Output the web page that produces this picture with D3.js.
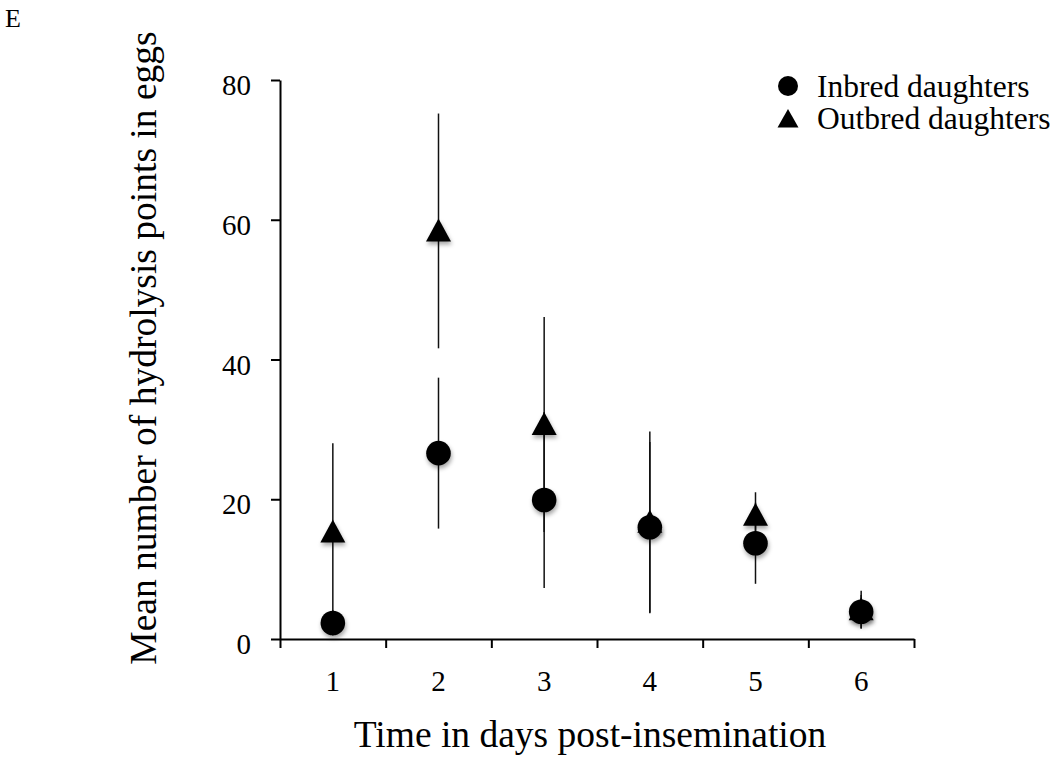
<!DOCTYPE html>
<html>
<head>
<meta charset="utf-8">
<script src="https://cdn.jsdelivr.net/npm/d3@7"></script>
<style>
  html, body { margin: 0; padding: 0; background: #fff; }
  svg { display: block; font-family: "Liberation Serif", "Times New Roman", serif; }
</style>
</head>
<body>
<svg id="chart" width="1053" height="757"></svg>
<script>
// ---- data ----
const days = ["1", "2", "3", "4", "5", "6"];
const inbredMean = [2.3, 26.6, 19.9, 16.0, 13.7, 3.9];
const inbredErr  = [1.8, 10.8, 12.6, 12.2, 5.8, 2.4];
const outbredMean = [15.3, 58.4, 30.7, 16.7, 17.7, 4.2];
const outbredErr  = [12.7, 16.8, 15.4, 13.0, 3.3, 2.7];
const yTicks = [0, 20, 40, 60, 80];
const seriesNames = ["Inbred daughters", "Outbred daughters"];

// ---- layout ----
const svg = d3.select("#chart");
const x = d3.scaleBand().domain(days).range([280, 914]).padding(0);
const y = d3.scaleLinear().domain([0, 80]).range([639, 80]);

const defs = svg.append("defs");
const f = defs.append("filter").attr("id", "shadow")
  .attr("x", "-50%").attr("y", "-50%").attr("width", "200%").attr("height", "200%");
f.append("feDropShadow").attr("dx", 1).attr("dy", 3).attr("stdDeviation", 2)
  .attr("flood-color", "#000").attr("flood-opacity", 0.35);

// panel letter
svg.append("text").attr("x", 5).attr("y", 27).style("font-size", "26px").text("E");

// y axis
const yAxis = svg.append("g").attr("transform", `translate(${x.range()[0]},0)`)
  .call(d3.axisLeft(y).tickValues(yTicks).tickSize(9).tickSizeOuter(0).tickPadding(20));
yAxis.attr("font-family", null).attr("font-size", null);
yAxis.select(".domain").attr("stroke-width", 2);
yAxis.selectAll(".tick line").attr("stroke-width", 2);
yAxis.selectAll(".tick text").style("font-size", "29px").attr("dy", "0.5em");

// x axis: boundary ticks
const xb = d3.scaleLinear().domain([0, days.length]).range(x.range());
const xAxis = svg.append("g").attr("transform", `translate(0,${y(0)})`)
  .call(d3.axisBottom(xb).ticks(days.length).tickSize(9).tickSizeOuter(0).tickFormat(""));
xAxis.select(".domain").attr("stroke-width", 2);
xAxis.selectAll(".tick line").attr("stroke-width", 2);

// x labels at category centres
const xLab = svg.append("g").attr("transform", `translate(0,${y(0)})`)
  .call(d3.axisBottom(x).tickSize(0).tickPadding(31));
xLab.attr("font-family", null).attr("font-size", null);
xLab.select(".domain").remove();
xLab.selectAll(".tick text").style("font-size", "29px");

// axis titles
svg.append("text").attr("x", 590).attr("y", 747).attr("text-anchor", "middle")
  .style("font-size", "37.5px")
  .text("Time in days post-insemination");
svg.append("text").attr("transform", "translate(156,348) rotate(-90)")
  .attr("text-anchor", "middle").style("font-size", "37.5px")
  .text("Mean number of hydrolysis points in eggs");

// data rows
const inbred = days.map((d, i) => ({ day: d, m: inbredMean[i], e: inbredErr[i] }));
const outbred = days.map((d, i) => ({ day: d, m: outbredMean[i], e: outbredErr[i] }));
const cx = d => x(d.day) + x.bandwidth() / 2;

// error bars
const bars = svg.append("g").attr("stroke", "#111").attr("stroke-width", 1.5);
[outbred, inbred].forEach(s => {
  bars.selectAll(null).data(s).enter().append("line")
    .attr("x1", cx).attr("x2", cx)
    .attr("y1", d => y(d.m + d.e)).attr("y2", d => y(Math.max(0, d.m - d.e)));
});

const tri = "M0,-12.5L12.5,10.5L-12.5,10.5Z";
// triangles
svg.append("g").selectAll("path").data(outbred).enter().append("path")
  .attr("d", tri).attr("fill", "#000").attr("filter", "url(#shadow)")
  .attr("transform", d => `translate(${cx(d)},${y(d.m)})`);
// circles
svg.append("g").selectAll("circle").data(inbred).enter().append("circle")
  .attr("cx", cx).attr("cy", d => y(d.m)).attr("r", 12.3)
  .attr("fill", "#000").attr("filter", "url(#shadow)");

// legend
const leg = svg.append("g");
leg.append("circle").attr("cx", 788).attr("cy", 86).attr("r", 10).attr("fill", "#000");
leg.append("path").attr("d", "M0,-10L10.5,8.5L-10.5,8.5Z").attr("fill", "#000")
  .attr("transform", "translate(788,119)");
leg.selectAll("text").data(seriesNames).enter().append("text")
  .attr("x", 817).attr("y", (d, i) => 97 + i * 32).style("font-size", "31.5px")
  .text(d => d);
</script>
</body>
</html>
